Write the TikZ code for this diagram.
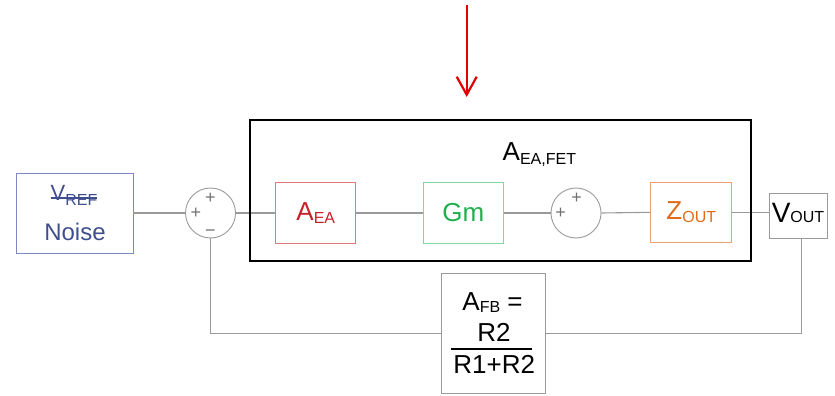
\documentclass[tikz,border=0pt]{standalone}
\usepackage{fontspec}
\setmainfont{Liberation Sans}
\usetikzlibrary{arrows.meta}
\definecolor{lineG}{HTML}{9A9A9A}
\definecolor{signG}{HTML}{707070}
\definecolor{noiseB}{HTML}{7D88C4}
\definecolor{noiseT}{HTML}{3F4E8E}
\definecolor{aeaB}{HTML}{E07A7A}
\definecolor{aeaT}{HTML}{C8202A}
\definecolor{gmB}{HTML}{80D8A0}
\definecolor{gmT}{HTML}{1FB050}
\definecolor{zoutB}{HTML}{F0A070}
\definecolor{zoutT}{HTML}{E06A1A}
\definecolor{arrR}{HTML}{E00000}
\newcommand\lsub[2][2.5pt]{\raisebox{-#1}{\fontsize{16}{16}\selectfont #2}}
\newcommand\strk[1]{\setbox0\hbox{#1}\rlap{\raisebox{1.5pt}{\rule{\wd0}{1.3pt}}}\box0}
\begin{document}
\begin{tikzpicture}[x=1pt,y=-1pt,
  box/.style={draw, rectangle, inner sep=0pt, line width=0.9pt},
  sumj/.style={draw=lineG, circle, minimum size=50pt, inner sep=0pt, line width=0.9pt},
  wire/.style={draw=lineG, line width=1.1pt},
  sgn/.style={text=signG, font=\fontsize{18}{18}\selectfont, inner sep=0pt},
  lbl/.style={font=\fontsize{26}{26}\selectfont, inner sep=0pt}
]
\useasboundingbox (0,0) rectangle (835,396);

% VREF noise source
\node[box, draw=noiseB, minimum width=117pt, minimum height=80pt] (noise) at (74.5,213) {};
\node[anchor=base, text=noiseT, inner sep=0pt] (vref) at (74,200)
  {\strk{\fontsize{22}{22}\selectfont V\raisebox{-5pt}{\fontsize{16}{16}\selectfont REF}}};
\node[anchor=base, text=noiseT, inner sep=0pt, font=\fontsize{24}{24}\selectfont] (noisetxt) at (75,240) {Noise};

% summing junction 1
\node[sumj] (s1) at (210.5,213) {};
\node[sgn] (s1a) at (210.5,198) {+};
\node[sgn] (s1b) at (196,213) {+};
\node[sgn] (s1c) at (210.5,233) {−};

% blocks
\node[box, draw=aeaB, text=aeaT, lbl, minimum width=80pt, minimum height=61pt] (aea) at (315.8,213) {A\lsub{EA}};
\node[box, draw=gmB, text=gmT, lbl, minimum width=80pt, minimum height=61pt] (gm) at (463.3,213) {Gm};

% summing junction 2
\node[sumj] (s2) at (576,213) {};
\node[sgn] (s2a) at (576.7,198.3) {+};
\node[sgn] (s2b) at (560.5,213.3) {+};

\node[box, draw=zoutB, text=zoutT, lbl, minimum width=81pt, minimum height=60pt] (zout) at (691.3,212.3) {Z\lsub{OUT}};
\node[box, draw=lineG, minimum width=58pt, minimum height=45pt] (vout) at (798,215.8)
  {\fontsize{28}{28}\selectfont V\lsub[0pt]{OUT}\rule[-5pt]{0pt}{5pt}};

% feedback block
\node[box, draw=lineG, minimum width=104pt, minimum height=120pt] (afb) at (493.8,333.3) {};
\node[lbl, anchor=base] (afbA) at (492.5,310.7) {A\lsub[1.6pt]{FB} =};
\node[lbl, anchor=base] (afbN) at (494,341.7) {R2};
\node[lbl, anchor=base] (afbD) at (494.2,373.3) {R1+R2};
\draw[line width=1.2pt] (451,349) -- (532.3,349);

% wires
\draw[wire] (noise.east) -- (s1.west);
\draw[wire] (s1.east) -- (aea.west);
\draw[wire] (aea.east) -- (gm.west);
\draw[wire] (gm.east) -- (s2.west);
\draw[wire] (s2.east) -- (zout.west);
\draw[wire] (zout.east) -- (zout.east -| vout.west);
\coordinate (vtap) at ([xshift=3.7pt]vout.south);
\draw[wire] (vtap) |- (afb.east);
\draw[wire] (afb.west) -| (s1.south);

% A_EA,FET enclosure
\node[draw, line width=2pt, rectangle, inner sep=0pt, minimum width=501pt, minimum height=141pt] (fet) at (500.5,190.5) {};
\node[lbl, anchor=base west] (fetlbl) at (502.5,160) {A\lsub[4pt]{EA,FET}};

% red arrow
\coordinate (arrtop) at (466.7,5);
\coordinate (arrtip) at (466.7,97);
\draw[arrR, line width=2.2pt, -{Straight Barb[length=18pt,width=20pt]}] (arrtop) -- (arrtip);
\end{tikzpicture}
\end{document}
